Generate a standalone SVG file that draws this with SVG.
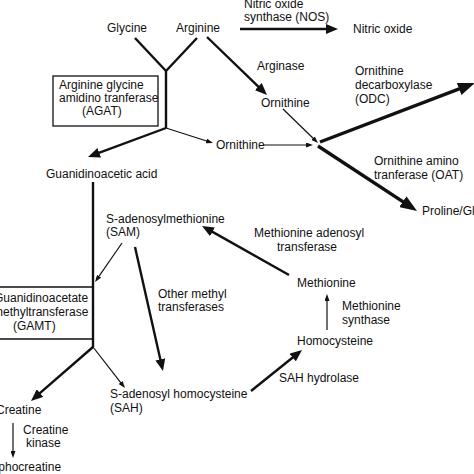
<svg xmlns="http://www.w3.org/2000/svg" width="474" height="474" viewBox="0 0 474 474">
<style>
text{font-family:"Liberation Sans",Arial,sans-serif;font-size:12px;fill:#111}
.ln{stroke:#111;fill:none;stroke-linecap:butt}
.thin{stroke-width:1.2}
.med{stroke-width:2.4}
.thick{stroke-width:3.4}
.box{fill:none;stroke:#111;stroke-width:1.3}
</style>
<defs>
<marker id="sm" markerUnits="userSpaceOnUse" markerWidth="7" markerHeight="5" viewBox="0 0 7 5" refX="2" refY="2.5" orient="auto"><path d="M0,0 L7,2.5 L0,5 z" fill="#111"/></marker>
<marker id="md" markerUnits="userSpaceOnUse" markerWidth="12" markerHeight="10" viewBox="0 0 12 10" refX="4" refY="5" orient="auto"><path d="M0,0 L12,5 L0,10 z" fill="#111"/></marker>
<marker id="bg" markerUnits="userSpaceOnUse" markerWidth="17" markerHeight="13" viewBox="0 0 17 13" refX="5" refY="6.5" orient="auto"><path d="M0,0 L17,6.5 L0,13 z" fill="#111"/></marker>
</defs>
<g id="connectors">
<path class="ln med" d="M135,38 L166,71 M197,38 L166,71 M166,71 L166,128"/>
<line class="ln med" x1="240" y1="29" x2="330" y2="29" marker-end="url(#md)"/>
<line class="ln med" x1="207" y1="37" x2="261.2" y2="89.4" marker-end="url(#md)"/>
<line class="ln med" x1="166" y1="128" x2="95.5" y2="154.2" marker-end="url(#md)"/>
<line class="ln thin" x1="166" y1="128" x2="208.2" y2="141.5" marker-end="url(#sm)"/>
<line class="ln thin" x1="283" y1="109" x2="314.4" y2="139.5" marker-end="url(#sm)"/>
<line class="ln thin" x1="263" y1="145" x2="308" y2="145" marker-end="url(#sm)"/>
<line class="ln thick" x1="320" y1="142" x2="463.8" y2="87.2" marker-end="url(#bg)"/>
<line class="ln thick" x1="318" y1="146" x2="407" y2="204.4" marker-end="url(#bg)"/>
<line class="ln med" x1="93" y1="182" x2="93" y2="347"/>
<line class="ln thin" x1="122" y1="243" x2="97.9" y2="277.9" marker-end="url(#sm)"/>
<line class="ln med" x1="135" y1="247" x2="161.2" y2="363.2" marker-end="url(#md)"/>
<line class="ln med" x1="93" y1="347" x2="37" y2="395.7" marker-end="url(#md)"/>
<line class="ln thin" x1="93" y1="347" x2="121.9" y2="384.1" marker-end="url(#sm)"/>
<line class="ln thin" x1="13" y1="423" x2="13" y2="453" marker-end="url(#sm)"/>
<line class="ln med" x1="251" y1="391" x2="295.8" y2="355" marker-end="url(#md)"/>
<line class="ln thin" x1="327" y1="330" x2="327" y2="299" marker-end="url(#sm)"/>
<line class="ln med" x1="289" y1="275" x2="209" y2="229.9" marker-end="url(#md)"/>
</g>
<g id="glycine"><text x="107" y="32">Glycine</text></g>
<g id="arginine"><text x="176" y="32">Arginine</text></g>
<g id="nos"><text x="244" y="8">Nitric oxide</text><text x="244" y="21">synthase (NOS)</text></g>
<g id="nitric-oxide"><text x="353" y="33">Nitric oxide</text></g>
<g id="arginase"><text x="257" y="70">Arginase</text></g>
<g id="ornithine-1"><text x="261" y="107">Ornithine</text></g>
<g id="ornithine-2"><text x="216" y="149">Ornithine</text></g>
<g id="odc"><text x="355" y="75">Ornithine</text><text x="355" y="89">decarboxylase</text><text x="355" y="103">(ODC)</text></g>
<g id="oat"><text x="374" y="165">Ornithine amino</text><text x="374" y="179">tranferase (OAT)</text></g>
<g id="proline"><text x="422" y="215">Proline/Glutamate</text></g>
<g id="agat"><rect class="box" x="53" y="76" width="105" height="50"/><text x="59" y="89">Arginine glycine</text><text x="59" y="102">amidino tranferase</text><text x="82" y="115">(AGAT)</text></g>
<g id="gaa"><text x="46" y="178">Guanidinoacetic acid</text></g>
<g id="sam"><text x="106" y="223">S-adenosylmethionine</text><text x="106" y="236">(SAM)</text></g>
<g id="mat"><text x="254" y="237">Methionine adenosyl</text><text x="277" y="251">transferase</text></g>
<g id="other-mt"><text x="158" y="298">Other methyl</text><text x="158" y="311">transferases</text></g>
<g id="methionine"><text x="297" y="287">Methionine</text></g>
<g id="ms"><text x="342" y="310">Methionine</text><text x="342" y="324">synthase</text></g>
<g id="homocysteine"><text x="297" y="345">Homocysteine</text></g>
<g id="sahh"><text x="279" y="382">SAH hydrolase</text></g>
<g id="sah"><text x="110" y="398">S-adenosyl homocysteine</text><text x="110" y="412">(SAH)</text></g>
<g id="gamt"><path class="box" d="M-2,287 H93 V339 H-2"/><text x="-6" y="302">Guanidinoacetate</text><text x="-7" y="316">methyltransferase</text><text x="13" y="330">(GAMT)</text></g>
<g id="creatine"><text x="-4" y="414">Creatine</text></g>
<g id="ck"><text x="23" y="434">Creatine</text><text x="26" y="447">kinase</text></g>
<g id="phosphocreatine"><text x="-29" y="471">Phosphocreatine</text></g>
</svg>
